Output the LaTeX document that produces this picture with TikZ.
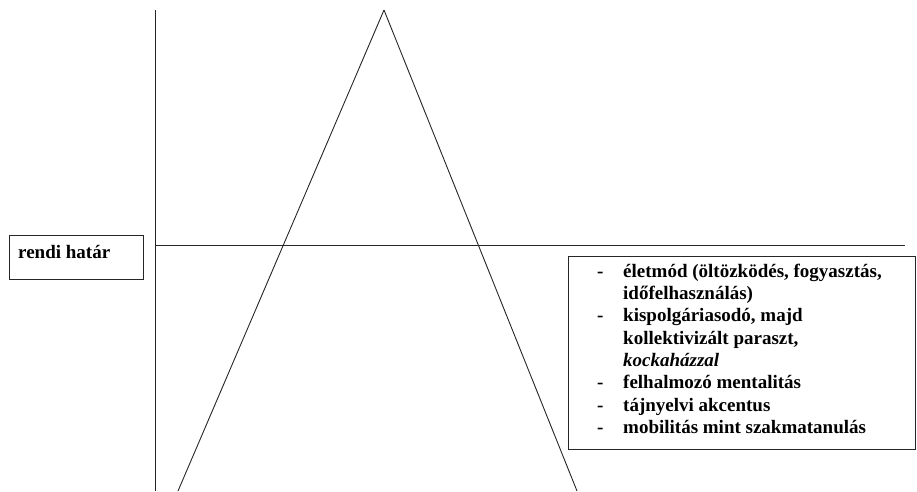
\documentclass[tikz,border=0pt]{standalone}
\usepackage{fontspec}
\setmainfont{Liberation Serif}
\begin{document}
\begin{tikzpicture}[x=1pt,y=-1pt,
  ln/.style={line width=0.9pt, draw=black!85},
  frame/.style={draw=black!85, line width=1pt, anchor=north west, inner sep=0pt},
  txt/.style={font=\fontsize{19}{22.3}\selectfont\bfseries, align=left, inner sep=0pt, anchor=north west}]
\useasboundingbox (0,0) rectangle (917,491);
\coordinate (vtop) at (155,10);
\coordinate (vbot) at (155,491);
\coordinate (hl) at (155,245);
\coordinate (hr) at (905,245);
\coordinate (apex) at (384,10);
\coordinate (lb) at (178,491);
\coordinate (rb) at (577,491);
\draw[ln] (vtop) -- (vbot);
\draw[ln] (hl) -- (hr);
\draw[ln] (apex) -- (lb);
\draw[ln] (apex) -- (rb);
\node[frame, minimum width=134pt, minimum height=44pt] (rendibox) at (9,235) {};
\node[txt] (rendi) at (18,242.4) {\strut rendi határ};
\node[frame, minimum width=347pt, minimum height=193pt] (listbox) at (568,256) {};
\node[txt] (list) at (597,261.4)
{\strut\makebox[26pt][l]{-}életmód (öltözködés, fogyasztás,\\
\hspace*{26pt}időfelhasználás)\\
\makebox[26pt][l]{-}kispolgáriasodó, majd\\
\hspace*{26pt}kollektivizált paraszt,\\
\hspace*{26pt}\textit{kockaházzal}\\
\makebox[26pt][l]{-}felhalmozó mentalitás\\
\makebox[26pt][l]{-}tájnyelvi akcentus\\
\makebox[26pt][l]{-}mobilitás mint szakmatanulás};
\end{tikzpicture}
\end{document}
